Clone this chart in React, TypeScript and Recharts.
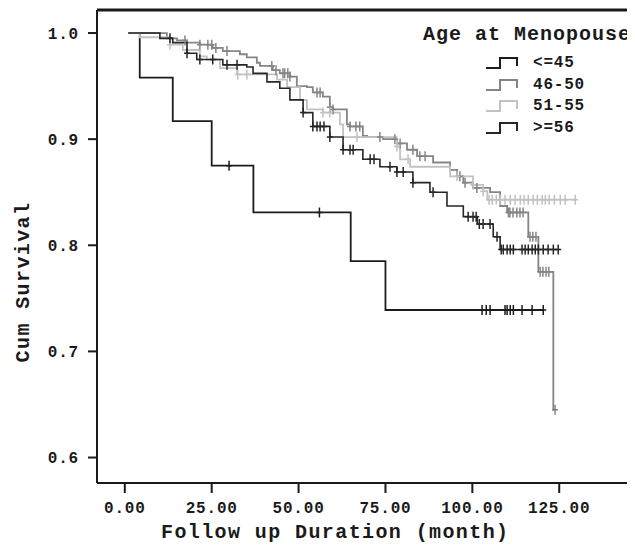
import { ComposedChart, Line, Scatter, XAxis, YAxis, ReferenceLine } from 'recharts';

const FONT = '"Liberation Mono", "Courier New", monospace';

const xTicks = [0, 25, 50, 75, 100, 125];
const yTicks = [0.6, 0.7, 0.8, 0.9, 1.0];
const X_DOMAIN = [-8, 146.8];
const Y_DOMAIN = [0.576, 1.0217];

// Age at menopause <=45
const le45Time = [1, 4.3, 13.8, 25, 37, 65, 75, 120.5];
const le45Surv = [1.0, 0.958, 0.917, 0.875, 0.831, 0.785, 0.739, 0.739];
const le45Censor = [30, 56, 102.8, 104, 105.1, 109.4, 110, 110.9, 111.8, 114.3, 117.2, 120.4];

// 46-50
const m4650Time = [
  1, 7.2, 12.1, 15.0, 17.9, 21.6, 25.3, 28.2, 33.1, 35.1, 38.0, 38.9, 42.6, 44.6, 47.5, 49.5,
  52.4, 54.1, 57.0, 59.0, 59.9, 63.9, 64.8, 68.5, 69.7, 74.3, 78.3, 81.2, 84.1, 88.7, 93.6,
  95.6, 97.4, 100.2, 105.1, 108.0, 110.0, 116.1, 119.0, 123.3, 124,
];
const m4650Surv = [
  1.0, 1.0, 0.995, 0.993, 0.991, 0.989, 0.986, 0.983, 0.98, 0.977, 0.972, 0.969, 0.965, 0.962,
  0.959, 0.95, 0.949, 0.944, 0.94, 0.93, 0.928, 0.914, 0.912, 0.903, 0.902, 0.9, 0.896, 0.89,
  0.884, 0.878, 0.871, 0.865, 0.859, 0.854, 0.85, 0.837, 0.831, 0.808, 0.775, 0.645, 0.645,
];
const m4650Censor = [
  17.3, 21.6, 23.9, 25.0, 26.2, 29.4, 42.3, 43.5, 45.5, 46.0, 46.9, 47.5, 55.3, 56.2, 59.0,
  59.9, 64.8, 66.5, 67.6, 73.4, 77.7, 79.2, 82.9, 84.9, 86.4, 96.4, 97.9, 101.3, 110.4, 110.8,
  111.7, 112.8, 113.7, 114.6, 116.6, 117.4, 118.3, 119.5, 120.3, 121.2, 122.0, 123.8,
];

// 51-55
const m5155Time = [
  1, 4.3, 13.0, 16.7, 21.6, 23.6, 27.4, 32.3, 43.8, 46.7, 50.4, 52.4, 57.0, 61.9, 62.8, 78.3,
  79.2, 82.1, 93.6, 100.2, 103.1, 104.3, 129.6,
];
const m5155Surv = [
  1.0, 0.996, 0.989, 0.984, 0.978, 0.975, 0.967, 0.961, 0.956, 0.949, 0.937, 0.928, 0.925,
  0.914, 0.902, 0.893, 0.881, 0.874, 0.865, 0.857, 0.851, 0.843, 0.843,
];
const m5155Censor = [
  13.0, 32.5, 35.1, 57.0, 59.0, 66.8, 78.3, 81.5, 95.6, 100.2, 103.1, 104.8, 105.7, 106.9,
  108.0, 109.4, 110.9, 112.3, 113.8, 114.9, 116.1, 117.5, 118.7, 120.1, 121.0, 122.1, 123.6,
  125.3, 126.7, 129.6,
];

// >=56
const ge56Time = [
  1, 10.1, 13.8, 17.9, 20.7, 28.2, 35.1, 36.9, 40.9, 44.6, 47.5, 51.3, 54.1, 59.0, 62.8, 68.5,
  73.4, 78.3, 82.9, 87.8, 92.7, 97.4, 101.4, 106.0, 108.0, 125.0,
];
const ge56Surv = [
  1.0, 0.995, 0.991, 0.981, 0.975, 0.97, 0.968, 0.962, 0.954, 0.948, 0.937, 0.925, 0.912, 0.902,
  0.89, 0.881, 0.874, 0.869, 0.859, 0.85, 0.837, 0.827, 0.82, 0.808, 0.796, 0.796,
];
const ge56Censor = [
  13.0, 17.9, 21.6, 25.3, 29.4, 32.3, 51.3, 54.1, 55.3, 56.2, 57.3, 59.0, 62.8, 64.8, 65.7,
  70.6, 71.7, 76.3, 78.3, 80.1, 82.9, 88.7, 98.8, 100.2, 101.1, 102.0, 103.1, 105.1, 107.1,
  108.3, 108.9, 110.0, 110.9, 111.8, 114.3, 115.2, 116.1, 117.2, 118.1, 119.0, 120.4, 121.8,
  123.3, 124.7,
];

const legendLabels = ['<=45', '46-50', '51-55', '>=56'];

function toSteps(times: number[], surv: number[]) {
  return times.map((t, i) => ({ t, s: surv[i] }));
}

// survival value of the step in force at time t
function marks(times: number[], surv: number[], censor: number[]) {
  return censor.map((c) => {
    let s = surv[0];
    times.forEach((t, i) => {
      if (t <= c) s = surv[i];
    });
    return { t: c, s };
  });
}

const series = [
  { name: legendLabels[0], color: '#1c1c1c', width: 1.8, steps: toSteps(le45Time, le45Surv), cens: marks(le45Time, le45Surv, le45Censor) },
  { name: legendLabels[1], color: '#858585', width: 1.8, steps: toSteps(m4650Time, m4650Surv), cens: marks(m4650Time, m4650Surv, m4650Censor) },
  { name: legendLabels[2], color: '#c2c2c2', width: 1.8, steps: toSteps(m5155Time, m5155Surv), cens: marks(m5155Time, m5155Surv, m5155Censor) },
  { name: legendLabels[3], color: '#262626', width: 1.6, steps: toSteps(ge56Time, ge56Surv), cens: marks(ge56Time, ge56Surv, ge56Censor) },
];

const tickStyle = { fontFamily: FONT, fontWeight: 700, fontSize: 16, fill: '#1a1a1a', letterSpacing: 0.8 };

function CensorMark(color: string) {
  return (props: any) => {
    const { cx, cy } = props;
    if (cx == null || cy == null) return <g />;
    return (
      <path
        d={`M${cx},${cy - 5}V${cy + 5}M${cx - 3},${cy}H${cx + 3}`}
        stroke={color}
        strokeWidth={1.5}
        fill="none"
      />
    );
  };
}

function StepGlyph({ color }: { color: string }) {
  return (
    <svg width={34} height={14} style={{ display: 'block' }}>
      <path d="M0,12H14V2H31V10" stroke={color} strokeWidth={2} fill="none" />
    </svg>
  );
}

export default function App() {
  return (
    <div style={{ position: 'relative', width: 627, height: 540 }}>
      <ComposedChart width={627} height={540} margin={{ top: 2, right: 0, bottom: 0, left: 0 }}>
        <XAxis
          type="number"
          dataKey="t"
          domain={X_DOMAIN}
          ticks={xTicks}
          allowDataOverflow
          tickFormatter={(v) => Number(v).toFixed(2)}
          tick={tickStyle}
          tickSize={10}
          tickMargin={9}
          height={65}
          stroke="#1a1a1a"
          strokeWidth={2}
        />
        <YAxis
          type="number"
          dataKey="s"
          domain={Y_DOMAIN}
          ticks={yTicks}
          allowDataOverflow
          tickFormatter={(v) => Number(v).toFixed(1)}
          tick={tickStyle}
          tickSize={9}
          tickMargin={9}
          width={89}
          stroke="#1a1a1a"
          strokeWidth={2}
        />
        <ReferenceLine y={Y_DOMAIN[1]} stroke="#1a1a1a" strokeWidth={3} />
        {series.map((s) => (
          <Line
            key={s.name}
            data={s.steps}
            dataKey="s"
            type="stepAfter"
            stroke={s.color}
            strokeWidth={s.width}
            dot={false}
            activeDot={false}
            isAnimationActive={false}
          />
        ))}
        {series.map((s) => (
          <Scatter
            key={s.name + '-c'}
            data={s.cens}
            dataKey="s"
            shape={CensorMark(s.color)}
            legendType="none"
            isAnimationActive={false}
          />
        ))}
      </ComposedChart>

      <div
        style={{
          position: 'absolute', left: 2, top: 264, width: 28, transform: 'rotate(-90deg)',
          transformOrigin: 'center', display: 'flex', justifyContent: 'center', whiteSpace: 'nowrap',
          fontFamily: FONT, fontWeight: 700, fontSize: 20, letterSpacing: 1.4, lineHeight: '20px', color: '#1a1a1a',
        }}
      >
        Cum Survival
      </div>
      <div
        style={{
          position: 'absolute', left: 153, top: 515, whiteSpace: 'nowrap',
          fontFamily: FONT, fontWeight: 700, fontSize: 20, letterSpacing: 1.4, lineHeight: '20px', color: '#1a1a1a',
        }}
      >
        Follow up Duration (month)
      </div>

      <div style={{ position: 'absolute', left: 415, top: 17, fontFamily: FONT, fontWeight: 700, color: '#1a1a1a' }}>
        <div style={{ fontSize: 20, letterSpacing: 1, lineHeight: '20px', whiteSpace: 'nowrap' }}>Age at Menopouse</div>
        {series.map((s, i) => (
          <div
            key={s.name}
            style={{ position: 'absolute', left: 63, top: 29 + i * 21.5, display: 'flex', alignItems: 'center', whiteSpace: 'nowrap' }}
          >
            <StepGlyph color={s.color} />
            <span style={{ marginLeft: 13, fontSize: 16, letterSpacing: 0.8, lineHeight: '18px' }}>{s.name}</span>
          </div>
        ))}
      </div>
    </div>
  );
}
